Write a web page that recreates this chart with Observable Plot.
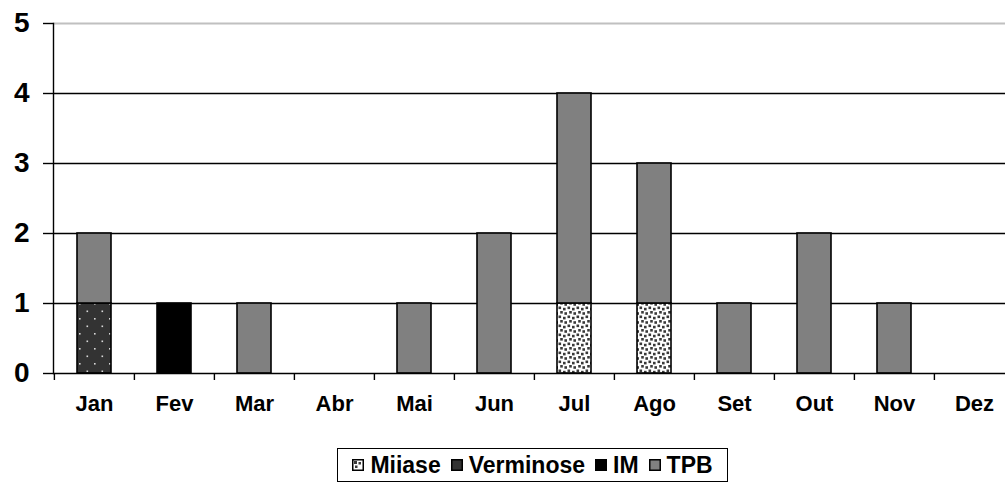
<!DOCTYPE html>
<html><head><meta charset="utf-8">
<script src="https://cdn.jsdelivr.net/npm/d3@7"></script>
<script src="https://cdn.jsdelivr.net/npm/@observablehq/plot@0.6"></script>
<style>
body{margin:0;background:#fff;font-family:"Liberation Sans",Arial,sans-serif;}
#wrap{position:relative;width:1005px;height:485px;overflow:hidden;}
#legend{position:absolute;left:337px;top:448px;width:389px;height:32px;border:1px solid #000;display:flex;align-items:center;justify-content:center;font-weight:bold;font-size:23px;color:#000;}
#legend .item{display:flex;align-items:center;margin:0 5px;}
#legend svg{margin-right:6px;}
</style></head>
<body>
<svg width="0" height="0" style="position:absolute">
<defs>
<pattern id="pMiiase" width="9" height="9" patternUnits="userSpaceOnUse">
<rect width="9" height="9" fill="#fff"/>
<rect x="0.5" y="0.5" width="2.6" height="2.6" fill="#3a3a3a"/>
<rect x="5" y="1.8" width="2.6" height="2.6" fill="#3a3a3a"/>
<rect x="2.2" y="5" width="2.6" height="2.6" fill="#3a3a3a"/>
<rect x="6.4" y="6.2" width="2.6" height="2.6" fill="#3a3a3a"/>
</pattern>
<pattern id="pVerm" width="15" height="15" patternUnits="userSpaceOnUse">
<rect width="15" height="15" fill="#333"/>
<rect x="4" y="3" width="1.6" height="1.6" fill="#d8d8d8"/>
<rect x="11.5" y="10.5" width="1.6" height="1.6" fill="#d8d8d8"/>
</pattern>
<pattern id="pMiiaseL" width="11" height="11" patternUnits="userSpaceOnUse">
<rect width="11" height="11" fill="#fff"/>
<rect x="2" y="2" width="3" height="3" fill="#3a3a3a"/>
<rect x="6.5" y="3" width="2.5" height="2.5" fill="#3a3a3a"/>
<rect x="3" y="6.5" width="2.5" height="2.5" fill="#3a3a3a"/>
</pattern>
</defs>
</svg>
<div id="wrap"></div>
<script>
const months = ["Jan","Fev","Mar","Abr","Mai","Jun","Jul","Ago","Set","Out","Nov","Dez"];
const series = ["Miiase","Verminose","IM","TPB"];
const miiase    = [0,0,0,0,0,0,1,1,0,0,0,0];
const verminose = [1,0,0,0,0,0,0,0,0,0,0,0];
const im        = [0,1,0,0,0,0,0,0,0,0,0,0];
const tpb       = [1,0,1,0,1,2,3,2,1,2,1,0];
const yTicks = [0,1,2,3,4,5];
const fills = ["url(#pMiiase)","url(#pVerm)","#000000","#808080"];
const legendFills = ["url(#pMiiaseL)","#333333","#000000","#808080"];

const valuesBySeries = [miiase, verminose, im, tpb];
const rows = [];
months.forEach((m, i) => {
  series.forEach((s, j) => {
    const v = valuesBySeries[j][i];
    if (v > 0) rows.push({month: m, series: s, value: v});
  });
});

const H = 445;
const plot = Plot.plot({
  width: 1005,
  height: H,
  marginLeft: 53,
  marginRight: 0,
  marginTop: 23,
  marginBottom: H - 373,
  style: {fontFamily: "'Liberation Sans', Arial, sans-serif", color: "#000", background: "transparent"},
  x: {domain: months, range: [53, 1015], paddingInner: 0.576, paddingOuter: 0.288, label: null},
  y: {domain: [0, 5], range: [373, 23], label: null},
  color: {domain: series, range: fills},
  marks: [
    Plot.ruleY([5], {stroke: "#c0c0c0", strokeWidth: 2}),
    Plot.ruleY([1,2,3,4], {stroke: "#000", strokeWidth: 1.4}),
    Plot.barY(rows, Plot.stackY({order: null}, {x: "month", y: "value", fill: "series", stroke: "#000", strokeWidth: 1.6})),
    Plot.ruleY([0], {stroke: "#000", strokeWidth: 1.4}),
    Plot.frame({anchor: "left", stroke: "#000", strokeWidth: 1.4}),
    Plot.ruleX(months, {x: d => d, dx: -40.1, y1: 0, y2: 0, insetBottom: -7, stroke: "#000", strokeWidth: 1.4}),
    Plot.axisY({ticks: yTicks, tickSize: 10, tickPadding: 14, fontSize: 28, fontWeight: "bold", tickFormat: d => String(d), strokeWidth: 1.4, label: null}),
    Plot.axisX({tickSize: 0, tickPadding: 22, fontSize: 22, fontWeight: "bold", label: null})
  ]
});
const wrap = document.getElementById("wrap");
wrap.appendChild(plot);

const legend = document.createElement("div");
legend.id = "legend";
series.forEach((s, j) => {
  const item = document.createElement("div");
  item.className = "item";
  item.innerHTML = `<svg width="12" height="12"><rect x="0.75" y="0.75" width="10.5" height="10.5" fill="${legendFills[j]}" stroke="#000" stroke-width="1.5"/></svg><span>${s}</span>`;
  legend.appendChild(item);
});
wrap.appendChild(legend);
</script>
</body></html>
